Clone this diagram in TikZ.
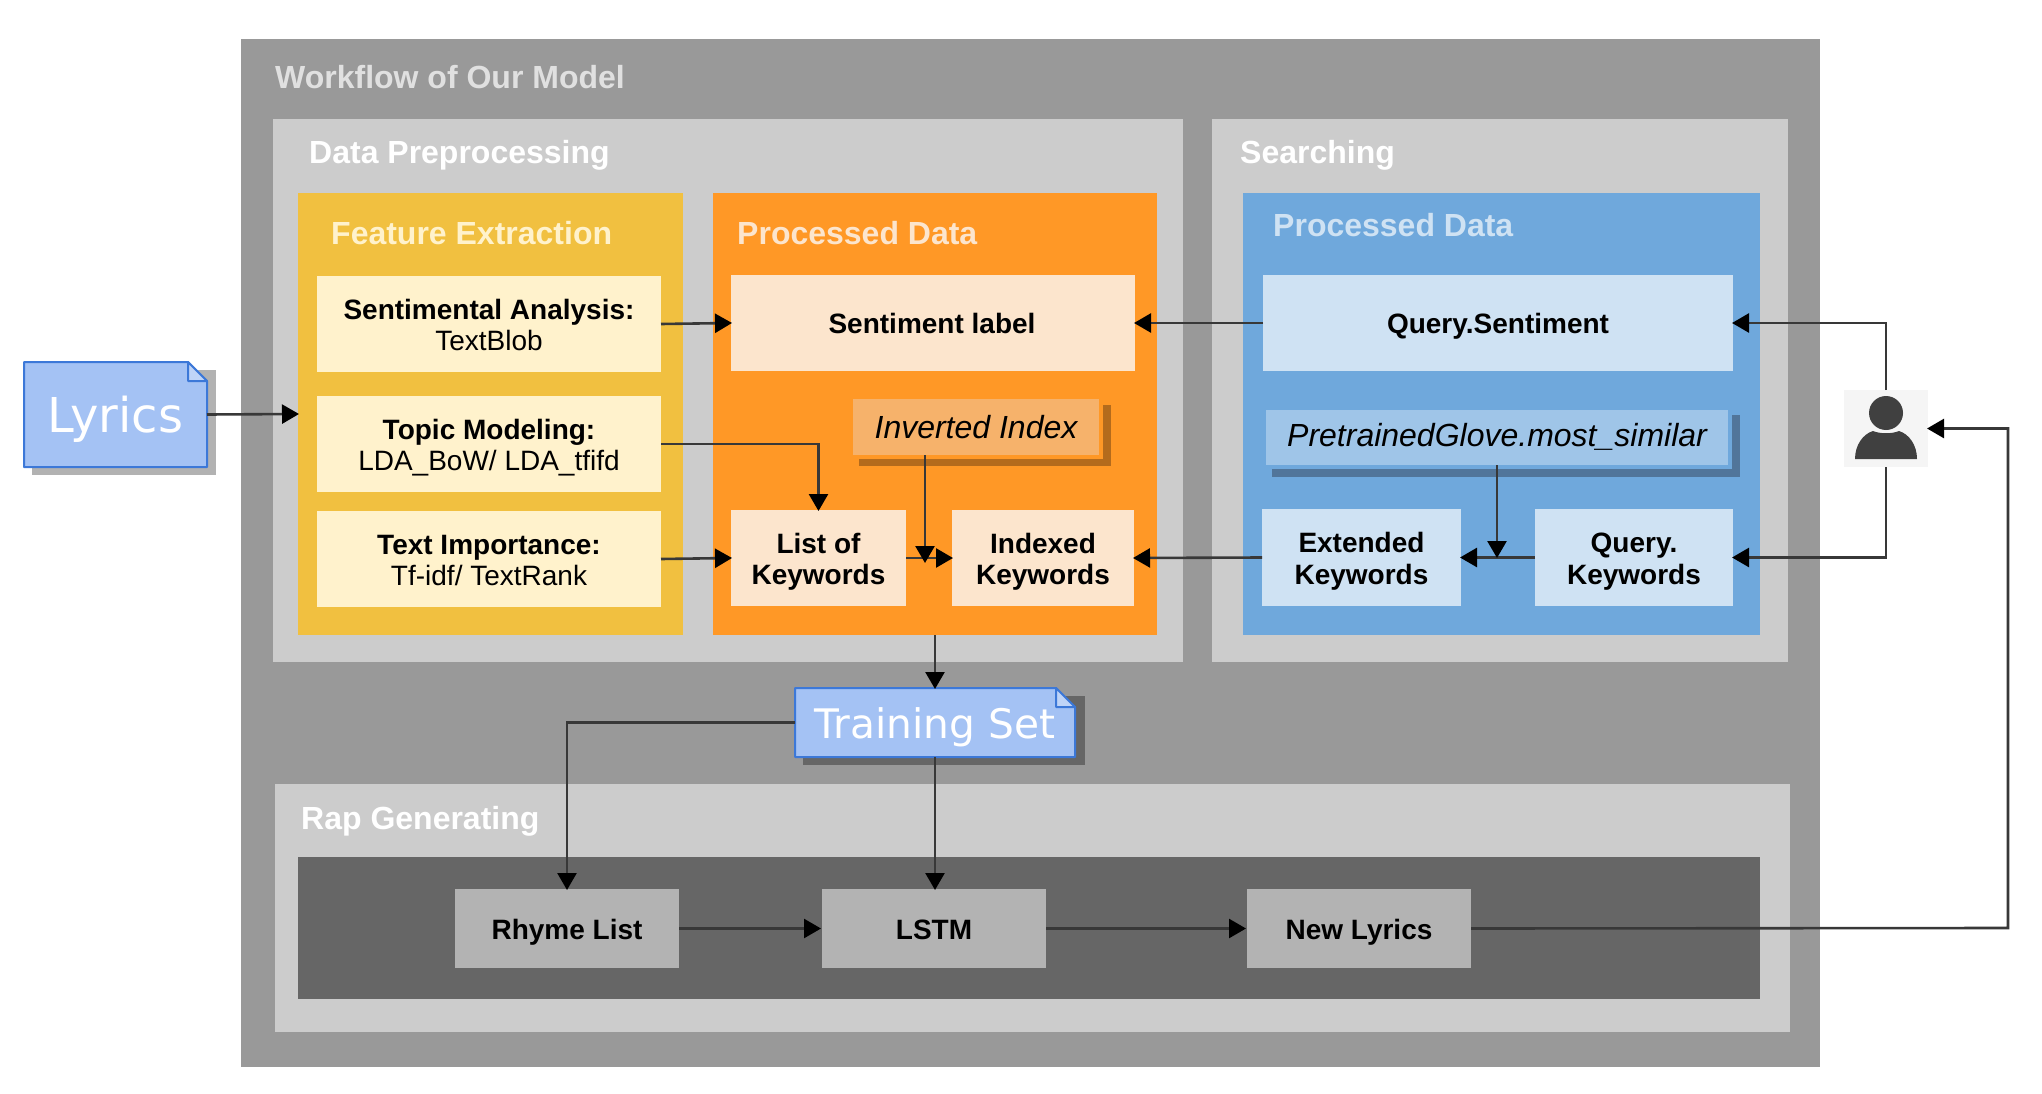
\documentclass[tikz,border=0pt]{standalone}
\usepackage{fontspec}
\setmainfont{Liberation Sans}
\newfontfamily\djv{DejaVu Sans}
\usetikzlibrary{arrows.meta,calc}
\definecolor{outerg}{HTML}{999999}
\definecolor{innerg}{HTML}{CCCCCC}
\definecolor{yel}{HTML}{F1C040}
\definecolor{org}{HTML}{FF9826}
\definecolor{blu}{HTML}{6FA8DC}
\definecolor{cream}{HTML}{FFF2CC}
\definecolor{peach}{HTML}{FCE5CD}
\definecolor{lblue}{HTML}{CFE2F3}
\definecolor{darkg}{HTML}{666666}
\definecolor{midg}{HTML}{B3B3B3}
\definecolor{note}{HTML}{A4C2F4}
\definecolor{noteb}{HTML}{3C78D8}
\definecolor{invf}{HTML}{F6B26B}
\definecolor{invs}{HTML}{B46B1C}
\definecolor{prf}{HTML}{9FC5E8}
\definecolor{prs}{HTML}{51759A}
\newcommand{\sst}{\rule{0pt}{29pt}}
\newcommand{\est}{\rule[-7pt]{0pt}{7pt}}
\newcommand{\ssn}{\rule[-7pt]{0pt}{35pt}}
\newcommand{\pbox}[6]{%
  \pgfmathsetmacro\pcx{(#2+#4)/2}\pgfmathsetmacro\pcy{(#3+#5)/2}%
  \pgfmathsetmacro\pw{#4-#2}\pgfmathsetmacro\ph{#5-#3}%
  \node[pb,#1,minimum width=\pw pt,minimum height=\ph pt] (#6) at (\pcx,\pcy)}
\tikzset{
  pb/.style={rectangle,inner sep=0pt,outer sep=0pt,draw=none,align=center},
  lbl/.style={font=\fontsize{28}{31.3}\selectfont},
  bl/.style={font=\fontsize{28}{31.3}\selectfont\bfseries},
  itl/.style={font=\fontsize{32}{35}\selectfont\itshape},
  head/.style={anchor=west,inner sep=0pt,font=\fontsize{32}{36}\selectfont\bfseries},
  conn/.style={draw=black!78,line width=2.6pt,shorten >=-1pt,-{Triangle[length=17pt,width=19pt,color=black]}},
  notebody/.style={fill=note,draw=noteb,line width=2pt,line join=round},
}
\begin{document}
\begin{tikzpicture}[x=1pt,y=-1pt]
\useasboundingbox (0,0) rectangle (2042,1094);
\fill[white] (0,0) rectangle (2042,1094);
% panels
\pbox{fill=outerg}{241}{39}{1820}{1067}{outer} {};
\pbox{fill=innerg}{273}{119}{1183}{662}{prep} {};
\pbox{fill=innerg}{1212}{119}{1788}{662}{search} {};
\pbox{fill=innerg}{275}{784}{1790}{1032}{rap} {};
\pbox{fill=yel}{298}{193}{683}{635}{feat} {};
\pbox{fill=org}{713}{193}{1157}{635}{proc} {};
\pbox{fill=blu}{1243}{193}{1760}{635}{sproc} {};
\pbox{fill=darkg}{298}{857}{1760}{999}{gen} {};
% headings
\node[head,text=innerg!60!white] (hwork) at (275,77) {Workflow of Our Model};
\node[head,text=white] (hprep) at (309,155) {Data Preprocessing};
\node[head,text=white] (hsearch) at (1240,155) {Searching};
\node[head,text=cream] (hfeat) at (331,233) {Feature Extraction};
\node[head,text=peach] (hproc) at (737,233) {Processed Data};
\node[head,text=lblue] (hsproc) at (1273,225) {Processed Data};
\node[head,text=white] (hrap) at (301,821) {Rap Generating};
% feature boxes
\pbox{fill=cream,lbl}{317}{276}{661}{372}{sa} {\sst\textbf{Sentimental Analysis:}\\TextBlob\est};
\pbox{fill=cream,lbl}{317}{396}{661}{492}{tm} {\sst\textbf{Topic Modeling:}\\LDA\_BoW/ LDA\_tfifd\est};
\pbox{fill=cream,lbl}{317}{511}{661}{607}{ti} {\sst\textbf{Text Importance:}\\Tf-idf/ TextRank\est};
% processed boxes
\pbox{fill=peach,bl}{731}{275}{1135}{371}{sl} {\ssn Sentiment label\kern2pt};
\pbox{fill=peach,bl}{731}{510}{906}{606}{lk} {\sst List of\\Keywords\est};
\pbox{fill=peach,bl}{952}{510}{1134}{606}{ik} {\sst Indexed\\Keywords\est};
\fill[invs] (859,405) rectangle (1111,466);
\fill[org] (849,395) rectangle (1103,459);
\pbox{fill=invf,itl}{853}{399}{1099}{455}{inv} {\rule[-7pt]{0pt}{36pt}Inverted Index};
% search boxes
\pbox{fill=lblue,bl}{1263}{275}{1733}{371}{qs} {\ssn Query.Sentiment};
\fill[prs] (1272,415) rectangle (1740,477);
\fill[blu] (1262,406) rectangle (1732,469);
\pbox{fill=prf,itl}{1266}{410}{1728}{465}{pg} {\rule[-7pt]{0pt}{31pt}PretrainedGlove.most\_similar};
\pbox{fill=lblue,bl}{1262}{509}{1461}{606}{ek} {\sst Extended\\Keywords\est};
\pbox{fill=lblue,bl}{1535}{509}{1733}{606}{qk} {\sst Query.\\Keywords\est};
% generating boxes
\pbox{fill=midg,bl}{455}{889}{679}{968}{rl} {\ssn Rhyme List};
\pbox{fill=midg,bl}{822}{889}{1046}{968}{ls} {\ssn LSTM};
\pbox{fill=midg,bl}{1247}{889}{1471}{968}{nl} {\ssn New Lyrics};
% person
\pbox{fill=black!4}{1844}{390}{1928}{467}{user} {};
\fill[black!75] (1886,413) circle (17pt);
\fill[black!75] (1855,459) .. controls (1855,445) and (1863,434) .. (1873,431) .. controls (1880,434) and (1892,434) .. (1899,431) .. controls (1909,434) and (1917,445) .. (1917,459) -- cycle;
% notes
\fill[black!30] (32,370) rectangle (216,475);
\fill[darkg] (803,696) rectangle (1085,765);
\draw[notebody] (24,362) -- (188,362) -- (207,381) -- (207,467) -- (24,467) -- cycle;
\draw[notebody,fill=note!70!white] (188,362) -- (207,381) -- (188,381) -- cycle;
\node[pb,minimum width=183pt,minimum height=105pt,text=white,font=\djv\fontsize{48}{50}\selectfont] (lyr) at (115.5,414.5) {\raisebox{-17.5pt}[0pt][0pt]{Lyrics}};
\draw[notebody] (795,688) -- (1056,688) -- (1075,707) -- (1075,757) -- (795,757) -- cycle;
\draw[notebody,fill=note!70!white] (1056,688) -- (1075,707) -- (1056,707) -- cycle;
\node[pb,minimum width=280pt,minimum height=69pt,text=white,font=\djv\fontsize{40.7}{44}\selectfont] (train) at (935,722.5) {\raisebox{-15.5pt}[0pt][0pt]{Training Set}};
% connectors
\draw[conn] (lyr.east) -- (feat.west);
\draw[conn] (sa.east) -- (sl.west);
\draw[conn] (ti.east) -- (lk.west);
\draw[conn] (tm.east) -| (lk.north);
\draw[conn] (lk.east) -- (ik.west);
\coordinate (invend) at (925,562);
\draw[conn] (inv.south -| invend) -- (invend);
\draw[conn] (qs.west) -- (sl.east);
\draw[conn] (ek.west) -- (ik.east);
\draw[conn] (qk.west) -- (ek.east);
\coordinate (pgend) at (1497,557);
\draw[conn] (pg.south -| pgend) -- (pgend);
\draw[conn] (user.north) |- (qs.east);
\draw[conn] (user.south) |- (qk.east);
\draw[conn] (proc.south -| train.north) -- (train.north);
\draw[conn] (train.west) -| (rl.north);
\draw[conn] (train.south) -- (ls.north -| train.south);
\draw[conn,shorten >=1pt] (rl.east) -- (ls.west);
\draw[conn,shorten >=1pt] (ls.east) -- (nl.west);
\coordinate (turn) at (2008,928);
\draw[conn] (nl.east) -- (turn) -- (turn |- user.east) -- (user.east);
\end{tikzpicture}
\end{document}
